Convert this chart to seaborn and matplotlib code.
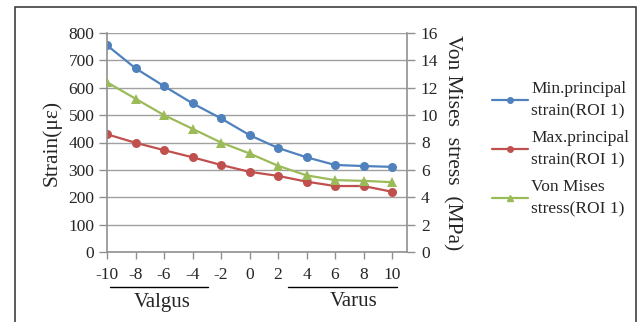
import matplotlib
matplotlib.use("Agg")
import matplotlib.pyplot as plt
import seaborn as sns
from matplotlib.patches import Rectangle
from matplotlib.lines import Line2D

# angle (deg), negative = valgus, positive = varus
angles = [-10, -8, -6, -4, -2, 0, 2, 4, 6, 8, 10]
min_strain = [755, 671, 606, 543, 488, 427, 380, 346, 318, 314, 311]
max_strain = [430, 399, 372, 346, 318, 293, 278, 257, 241, 241, 220]
von_mises = [12.4, 11.2, 10.0, 9.0, 8.0, 7.2, 6.3, 5.6, 5.25, 5.2, 5.1]

labels = ["Min.principal\nstrain(ROI 1)", "Max.principal\nstrain(ROI 1)", "Von Mises\nstress(ROI 1)"]
colors = ["#4F81BD", "#C0504D", "#9BBB59"]

sns.set_theme(style="white")
plt.rcParams["font.family"] = ["Liberation Serif", "DejaVu Serif"]
plt.rcParams["axes.unicode_minus"] = False

fig = plt.figure(figsize=(6.38, 3.22), dpi=100)
W, H = 638, 322
ax = fig.add_axes([107 / W, 1 - 252 / H, 300 / W, 219 / H])
ax2 = ax.twinx()

sns.lineplot(x=angles, y=min_strain, ax=ax, color=colors[0], marker="o",
             markersize=6.5, markeredgewidth=0, linewidth=1.6)
sns.lineplot(x=angles, y=max_strain, ax=ax, color=colors[1], marker="o",
             markersize=6.5, markeredgewidth=0, linewidth=1.6)
sns.lineplot(x=angles, y=von_mises, ax=ax2, color=colors[2], marker="^",
             markersize=7.5, markeredgewidth=0, linewidth=1.6)

ax.set_xlim(-10, 11.05)
ax.set_ylim(0, 800)
ax2.set_ylim(0, 16)
ax.set_xticks(angles)
ax.set_yticks(range(0, 801, 100))
ax2.set_yticks(range(0, 17, 2))
ax.grid(axis="y", color="#a0a0a0", linewidth=1)
ax.set_axisbelow(True)

for a in (ax, ax2):
    for s in a.spines.values():
        s.set_visible(False)
ax.spines["left"].set_visible(True)
ax.spines["bottom"].set_visible(True)
ax2.spines["right"].set_visible(True)
for s in (ax.spines["left"], ax.spines["bottom"], ax2.spines["right"]):
    s.set_color("#909090")
    s.set_linewidth(1.2)

ax.tick_params(axis="y", direction="out", length=6, width=1, color="#909090",
               labelsize=12.5, pad=3, left=True)
ax.tick_params(axis="x", direction="out", length=5, width=1, color="#909090",
               labelsize=12.5, pad=6, bottom=True)
ax2.tick_params(axis="y", direction="out", length=6, width=1, color="#909090",
                labelsize=12.5, pad=4, right=True)

ax.set_ylabel("Strain(μ\u03b5)", fontsize=15.5, labelpad=5)
ax2.set_ylabel("Von Mises  stress  (MPa)", fontsize=15.5, rotation=-90, labelpad=17)

# Valgus / Varus brackets under the x axis
fig.add_artist(Line2D([110 / W, 208 / W], [1 - 287 / H, 1 - 287 / H], color="black", linewidth=1))
fig.add_artist(Line2D([288 / W, 397 / W], [1 - 287 / H, 1 - 287 / H], color="black", linewidth=1))
fig.text(162 / W, 1 - 302 / H, "Valgus", ha="center", va="center", fontsize=15)
fig.text(354 / W, 1 - 302 / H, "Varus", ha="center", va="center", fontsize=15)

handles = [Line2D([], [], color=c, marker=m, markersize=4, linewidth=1.6)
           for c, m in zip(colors, ["o", "o", "^"])]
leg = fig.legend(handles, labels, loc="upper left", bbox_to_anchor=(492 / W, 1 - 81 / H),
                 frameon=False, fontsize=12.5, handlelength=2.1, handletextpad=0.15,
                 labelspacing=0.6, borderaxespad=0, borderpad=0)
for t in leg.get_texts():
    t.set_linespacing(1.55)

# outer frame
fig.add_artist(Rectangle((15 / W, -0.02), 621 / W, 1 - 7 / H + 0.02, transform=fig.transFigure,
                         fill=False, edgecolor="#404040", linewidth=1.2))

fig.savefig("out.png", dpi=100)
